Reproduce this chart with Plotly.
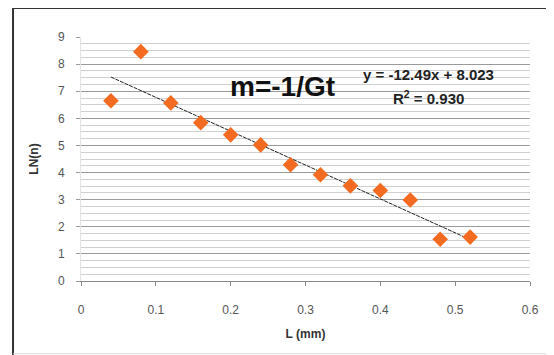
import plotly.graph_objects as go

L_mm = [0.04, 0.08, 0.12, 0.16, 0.20, 0.24, 0.28, 0.32, 0.36, 0.40, 0.44, 0.48, 0.52]
LN_n = [6.65, 8.46, 6.57, 5.84, 5.39, 5.02, 4.29, 3.92, 3.51, 3.34, 2.99, 1.54, 1.62]
slope = -12.49
intercept = 8.023
x_ticks = [0, 0.1, 0.2, 0.3, 0.4, 0.5, 0.6]
x_tick_text = ["0", "0.1", "0.2", "0.3", "0.4", "0.5", "0.6"]
y_ticks = list(range(0, 10))

trend_x = [min(L_mm), max(L_mm)]
trend_y = [slope * v + intercept for v in trend_x]

fig = go.Figure()
fig.add_trace(go.Scatter(x=trend_x, y=trend_y, mode="lines",
                         line=dict(color="#222222", width=1, dash="4px,1px"),
                         hoverinfo="skip", showlegend=False))
fig.add_trace(go.Scatter(x=L_mm, y=LN_n, mode="markers",
                         marker=dict(symbol="diamond", size=12, color="#F26B21",
                                     line=dict(width=0)),
                         showlegend=False))

fig.update_layout(
    width=546, height=347,
    margin=dict(l=73, r=24, t=29, b=74),
    paper_bgcolor="white", plot_bgcolor="white",
    font=dict(family="Liberation Sans, Arial", size=12, color="#444444"),
    xaxis=dict(range=[0, 0.6], tickvals=x_ticks, ticktext=x_tick_text,
               showgrid=False, zeroline=False, showline=True, linecolor="#888888",
               ticks="outside", ticklen=4, tickcolor="#888888",
               ticklabelstandoff=14, automargin=False,
               tickfont=dict(size=12, color="#555555"),
               title=dict(text="<b>L (mm)</b>", font=dict(size=12, color="#333333"), standoff=13)),
    yaxis=dict(range=[0, 9], tickvals=y_ticks, showgrid=True, gridcolor="#9a9a9a", gridwidth=1,
               zeroline=False, showline=True, linecolor="#e4e4e4",
               ticks="outside", ticklen=4, tickcolor="#9a9a9a",
               ticklabelstandoff=9, automargin=False,
               tickfont=dict(size=12, color="#555555"),
               minor=dict(dtick=0.25, showgrid=True, gridcolor="#d0d0d0", gridwidth=1),
               title=dict(text="<b>LN(n)</b>", font=dict(size=12, color="#333333"), standoff=16)),
    shapes=[
        dict(type="line", xref="paper", yref="paper", x0=-0.1514, x1=-0.1514, y0=-0.33, y1=1.119,
             line=dict(color="#333333", width=2)),
        dict(type="line", xref="paper", yref="paper", x0=-0.1514, x1=1.06, y0=1.119, y1=1.119,
             line=dict(color="#333333", width=2)),
        dict(type="line", xref="paper", yref="paper", x0=-0.1514, x1=1.06, y0=-0.298, y1=-0.298,
             line=dict(color="#d8d8d8", width=1)),
    ],
    annotations=[
        dict(text="<b>m=-1/Gt</b>", x=0.269, y=7.16, xref="x", yref="y", showarrow=False,
             font=dict(size=28, color="#111111", family="Liberation Sans, Arial")),
        dict(text="<b>y = -12.49x + 8.023</b>", x=0.4646, y=7.6, xref="x", yref="y",
             showarrow=False, font=dict(size=15, color="#222222", family="Liberation Sans Narrow, Liberation Sans")),
        dict(text="<b>R<sup>2</sup> = 0.930</b>", x=0.465, y=6.76, xref="x", yref="y",
             showarrow=False, font=dict(size=15, color="#222222", family="Liberation Sans Narrow, Liberation Sans")),
    ],
)
fig.write_html("out.html")
